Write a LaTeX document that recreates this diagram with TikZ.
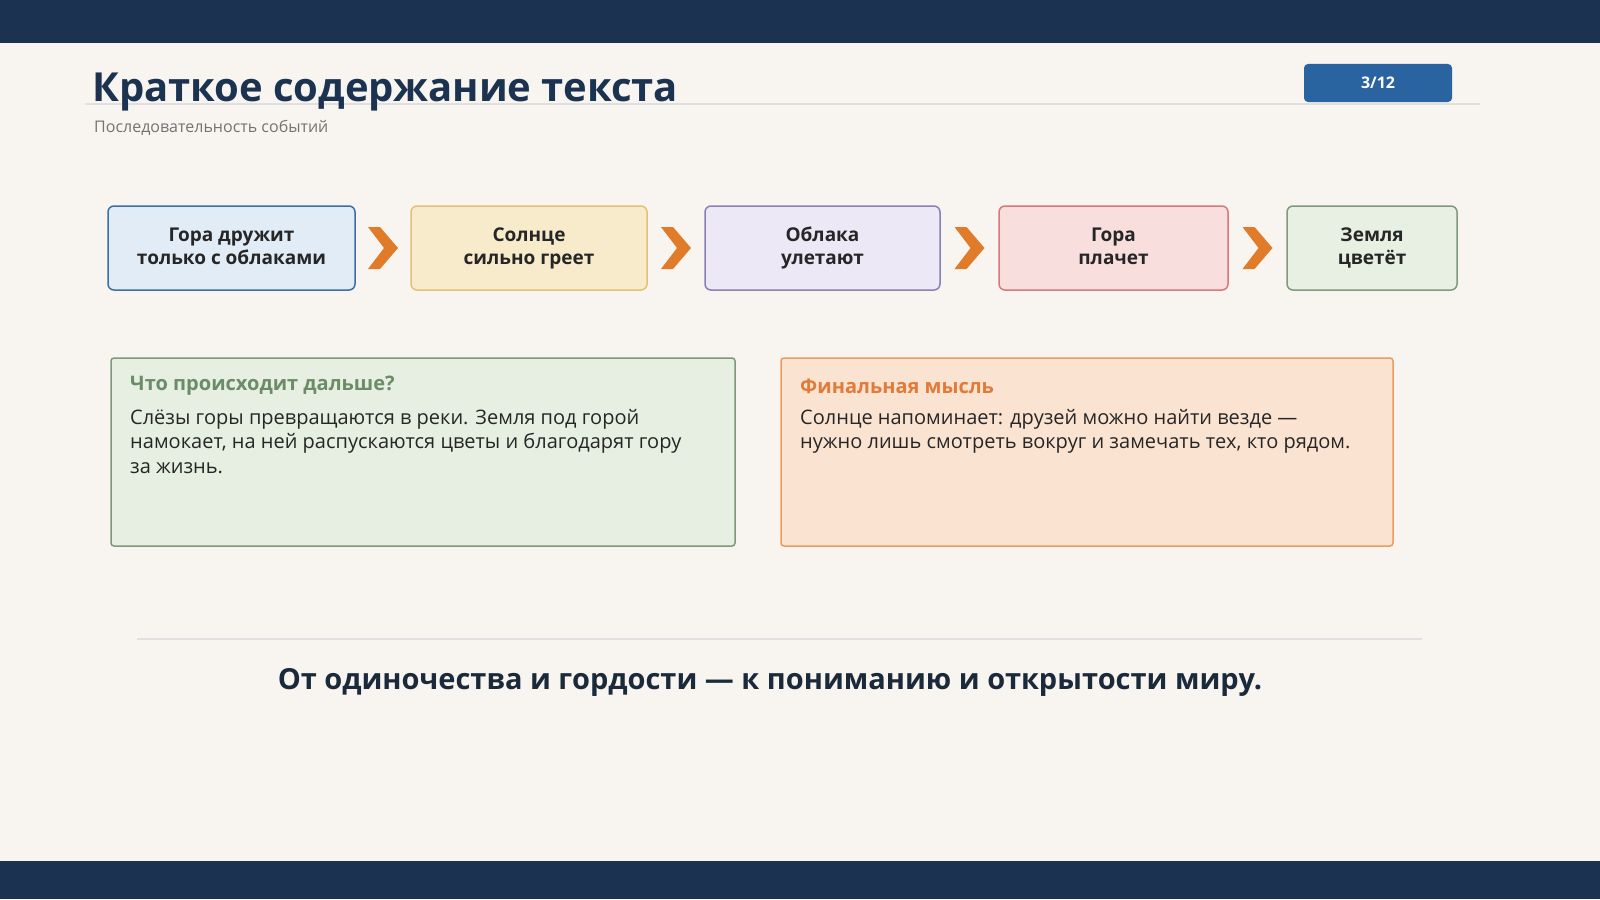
\documentclass[tikz,border=0pt]{standalone}
\usepackage{fontspec}
\setmainfont{Open Sans}
\usetikzlibrary{calc}
\begin{document}
\begin{tikzpicture}[x=1pt,y=-1pt,
 evt/.style={draw,line width=1.5pt,rounded corners=6pt,align=center,font=\fontsize{19}{23}\selectfont\bfseries,text=black!85,inner sep=0pt},
 panel/.style={draw,line width=1.5pt,rounded corners=3pt},
 ptitle/.style={anchor=west,inner sep=0pt,font=\fontsize{20}{24}\selectfont\bfseries},
 pbody/.style={anchor=north west,align=left,font=\fontsize{20}{24.5}\selectfont,text=black!85,inner sep=0pt}]
\definecolor{navy}{HTML}{1B3350}
\definecolor{bg}{HTML}{F8F5F0}
\definecolor{chevc}{HTML}{E07B2A}
\fill[bg] (0,0) rectangle (1600,899);
\fill[navy] (0,0) rectangle (1600,43);
\fill[navy] (0,861) rectangle (1600,899);
\draw[black!12,line width=1.2pt] (85,104) -- (1480,104);
\node[anchor=base west,inner sep=0pt,font=\fontsize{40}{48}\selectfont\bfseries,text=navy] (title) at (92,101) {Краткое содержание текста};
\node[anchor=base west,inner sep=0pt,font=\fontsize{16}{19}\selectfont,text=black!55] (sub) at (94,132) {Последовательность событий};
\node[fill={rgb,255:red,42;green,100;blue,160},rounded corners=4pt,minimum width=148pt,minimum height=38pt,text=white,font=\fontsize{16}{19}\selectfont\bfseries] (badge) at (1378,83) {3/12};
\node[evt,draw={rgb,255:red,61;green,111;blue,160},fill={rgb,255:red,225;green,236;blue,247},minimum width=247pt,minimum height=84pt] (s1) at (231.5,248) {\strut Гора дружит\\только с облаками\strut};
\node[evt,draw={rgb,255:red,224;green,194;blue,122},fill={rgb,255:red,248;green,235;blue,204},minimum width=236pt,minimum height=84pt] (s2) at (529,248) {\strut Солнце\\сильно греет\strut};
\node[evt,draw={rgb,255:red,139;green,127;blue,181},fill={rgb,255:red,236;green,232;blue,246},minimum width=235pt,minimum height=84pt] (s3) at (822.5,248) {\strut Облака\\улетают\strut};
\node[evt,draw={rgb,255:red,217;green,120;blue,122},fill={rgb,255:red,248;green,222;blue,221},minimum width=229pt,minimum height=84pt] (s4) at (1113.5,248) {\strut Гора\\плачет\strut};
\node[evt,draw={rgb,255:red,127;green,154;blue,124},fill={rgb,255:red,232;green,239;blue,227},minimum width=170pt,minimum height=84pt] (s5) at (1372,248) {\strut Земля\\цветёт\strut};
\foreach \a/\b in {s1/s2,s2/s3,s3/s4,s4/s5}{
 \path ($(\a.east)!0.5!(\b.west)$) coordinate (m);
 \fill[chevc] ([xshift=-15pt,yshift=-21pt]m) -- ([xshift=-3pt,yshift=-21pt]m) -- ([xshift=15pt]m) -- ([xshift=-3pt,yshift=21pt]m) -- ([xshift=-15pt,yshift=21pt]m) -- ([xshift=1pt]m) -- cycle;
}
\draw[panel,draw={rgb,255:red,125;green,154;blue,122},fill={rgb,255:red,230;green,239;blue,225}] (111,358) rectangle (735,546);
\node[ptitle,text={rgb,255:red,106;green,140;blue,102}] (gt) at (130,386) {Что происходит дальше?};
\node[pbody] (gb) at (130,409) {Слёзы горы превращаются в реки. Земля под горой\\намокает, на ней распускаются цветы и благодарят гору\\за жизнь.};
\draw[panel,draw={rgb,255:red,236;green,154;blue,94},fill={rgb,255:red,251;green,227;blue,210}] (781,358) rectangle (1393,546);
\node[ptitle,text={rgb,255:red,224;green,123;blue,58}] (ot) at (800,386) {Финальная мысль};
\node[pbody] (ob) at (800,409) {Солнце напоминает: друзей можно найти везде —\\нужно лишь смотреть вокруг и замечать тех, кто рядом.};
\draw[black!12,line width=1.2pt] (137,639) -- (1422,639);
\node[font=\fontsize{29}{34}\selectfont\bfseries,text={rgb,255:red,27;green,42;blue,58}] (concl) at (770,682) {От одиночества и гордости — к пониманию и открытости миру.};
\end{tikzpicture}
\end{document}
